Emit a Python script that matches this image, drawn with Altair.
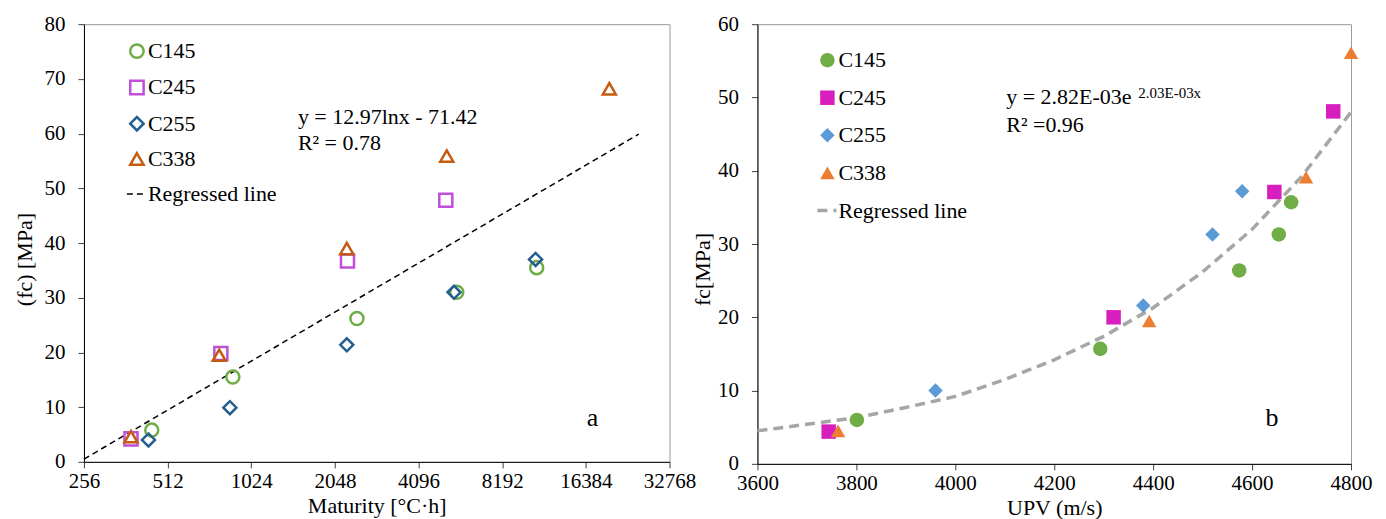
import altair as alt
import pandas as pd

FONT = "Liberation Serif"
groups = ["C145", "C245", "C255", "C338"]
shapes = ["circle", "square", "diamond", "triangle-up"]

# ---------------- panel a : maturity ----------------
a_colors = ["#70AD47", "#C04FD9", "#255E91", "#C55A11"]
a_x = {
    "C145": [449, 879, 2458, 5622, 10900],
    "C245": [378, 796, 2273, 5133],
    "C255": [437, 858, 2260, 5496, 10800],
    "C338": [378, 785, 2260, 5174, 19900],
}
a_y = {
    "C145": [5.8, 15.5, 26.2, 31.0, 35.5],
    "C245": [4.2, 19.8, 36.7, 47.8],
    "C255": [4.0, 9.9, 21.4, 31.0, 37.0],
    "C338": [4.6, 19.5, 39.0, 55.9, 68.2],
}
a_line_x = [256, 25400]
a_line_y = [0.5, 59.9]
a_xticks = [256, 512, 1024, 2048, 4096, 8192, 16384, 32768]
a_yticks = [0, 10, 20, 30, 40, 50, 60, 70, 80]
a_text = ["y = 12.97lnx - 71.42", "R² = 0.78"]
a_text_x = [1507, 1507]
a_text_y = [63.0, 58.3]
a_label_x = [17330]
a_label_y = [8.1]

# ---------------- panel b : UPV ----------------
b_colors = ["#70AD47", "#D91EBF", "#5B9BD5", "#ED7D31"]
b_x = {
    "C145": [3801, 4293, 4574, 4654, 4679],
    "C245": [3744, 4320, 4645, 4764],
    "C255": [3960, 4380, 4520, 4580],
    "C338": [3763, 4392, 4709, 4800],
}
b_y = {
    "C145": [6.0, 15.7, 26.4, 31.3, 35.7],
    "C245": [4.4, 20.0, 37.1, 48.1],
    "C255": [10.0, 21.6, 31.3, 37.2],
    "C338": [4.5, 19.5, 39.1, 56.1],
}
b_line_x = [3600, 3700, 3800, 3900, 4000, 4100, 4200, 4300, 4400, 4500, 4600, 4700, 4800]
b_line_y = [4.5, 5.4, 6.3, 7.7, 9.2, 11.5, 14.2, 17.4, 21.3, 26.2, 32.0, 39.2, 48.0]
b_xticks = [3600, 3800, 4000, 4200, 4400, 4600, 4800]
b_yticks = [0, 10, 20, 30, 40, 50, 60]
b_eq_main = ["y = 2.82E-03e"]
b_eq_main_x = [4103]
b_eq_main_y = [50.0]
b_eq_sup = ["2.03E-03x"]
b_eq_sup_x = [4370]
b_eq_sup_y = [50.6]
b_r2 = ["R² =0.96"]
b_r2_x = [4103]
b_r2_y = [46.3]
b_label_x = [4640]
b_label_y = [6.3]


def pts_frame(xs, ys):
    rows = []
    for g in groups:
        for x, y in zip(xs[g], ys[g]):
            rows.append({"x": x, "y": y, "Group": g})
    return pd.DataFrame(rows)


def pt_legend(lx, ly, rowpad, sw, size, offset):
    return alt.Legend(orient="none", legendX=lx, legendY=ly, title=None, padding=0,
                      labelFont=FONT, labelFontSize=22, labelColor="black",
                      rowPadding=rowpad, symbolStrokeWidth=sw, symbolSize=size,
                      labelOffset=offset)


def line_legend(lx, ly, size, color, width, dash, offset):
    return alt.Legend(orient="none", legendX=lx, legendY=ly, title=None, padding=0,
                      labelFont=FONT, labelFontSize=22, labelColor="black",
                      symbolType="stroke", symbolSize=size, symbolStrokeColor=color,
                      symbolStrokeWidth=width, symbolDash=dash, labelOffset=offset)


def text_layer(txt, xs, ys, xenc, yenc, size, align="left"):
    df = pd.DataFrame({"t": txt, "x": xs, "y": ys})
    return alt.Chart(df).mark_text(font=FONT, fontSize=size, align=align,
                                   baseline="middle", color="black").encode(
        x=xenc, y=yenc, text="t:N")


# ---------- panel a ----------
ax = lambda: alt.X("x:Q", scale=alt.Scale(type="log", base=2, domain=[256, 32768], nice=False),
                   axis=alt.Axis(values=a_xticks, format="d", title="Maturity [°C·h]"))
ay = lambda: alt.Y("y:Q", scale=alt.Scale(domain=[0, 80], nice=False),
                   axis=alt.Axis(values=a_yticks, title="(fc) [MPa]", titlePadding=7, titleY=235))

a_df = pts_frame(a_x, a_y)
leg_a = pt_legend(42, 16, 12.3, 2.5, 180, 0)
a_pts = alt.Chart(a_df).mark_point(filled=False, strokeWidth=2.5, size=170, opacity=1).encode(
    x=ax(), y=ay(),
    color=alt.Color("Group:N", scale=alt.Scale(domain=groups, range=a_colors), legend=leg_a),
    shape=alt.Shape("Group:N", scale=alt.Scale(domain=groups, range=shapes), legend=leg_a),
)
a_ldf = pd.DataFrame({"x": a_line_x, "y": a_line_y, "name": "Regressed line"})
a_line = alt.Chart(a_ldf).mark_line(color="black", strokeWidth=1.5).encode(
    x=ax(), y=ay(),
    strokeDash=alt.StrokeDash("name:N", scale=alt.Scale(domain=["Regressed line"], range=[[6, 4]]),
                              legend=line_legend(40, 159, 256, "black", 1.5, [6, 4], 2)),
)
a_eq = text_layer(a_text, a_text_x, a_text_y, ax(), ay(), 22)
a_lab = text_layer(["a"], a_label_x, a_label_y, ax(), ay(), 26, align="center")

left = alt.layer(a_line, a_pts, a_eq, a_lab).resolve_scale(
    color="independent", shape="independent", strokeDash="independent"
).properties(width=586, height=438)

# ---------- panel b ----------
bx = lambda: alt.X("x:Q", scale=alt.Scale(domain=[3600, 4800], nice=False),
                   axis=alt.Axis(values=b_xticks, format="d", title="UPV (m/s)"))
by = lambda: alt.Y("y:Q", scale=alt.Scale(domain=[0, 60], nice=False),
                   axis=alt.Axis(values=b_yticks, title="fc[MPa]", titlePadding=3, titleY=245))

b_df = pts_frame(b_x, b_y)
leg_b = pt_legend(59, 25, 15.6, 0, 210, 0)
b_pts = alt.Chart(b_df).mark_point(filled=True, size=210, opacity=1).encode(
    x=bx(), y=by(),
    color=alt.Color("Group:N", scale=alt.Scale(domain=groups, range=b_colors), legend=leg_b),
    shape=alt.Shape("Group:N", scale=alt.Scale(domain=groups, range=shapes), legend=leg_b),
)
b_ldf = pd.DataFrame({"x": b_line_x, "y": b_line_y, "name": "Regressed line"})
b_line = alt.Chart(b_ldf).mark_line(color="#A6A6A6", strokeWidth=3.5).encode(
    x=bx(), y=by(),
    strokeDash=alt.StrokeDash("name:N", scale=alt.Scale(domain=["Regressed line"], range=[[10, 6]]),
                              legend=line_legend(58, 175, 361, "#A6A6A6", 3.5, [8, 3], 0)),
)
b_main = text_layer(b_eq_main, b_eq_main_x, b_eq_main_y, bx(), by(), 22)
b_sup = text_layer(b_eq_sup, b_eq_sup_x, b_eq_sup_y, bx(), by(), 15)
b_r2t = text_layer(b_r2, b_r2_x, b_r2_y, bx(), by(), 22)
b_lab = text_layer(["b"], b_label_x, b_label_y, bx(), by(), 26, align="center")

right = alt.layer(b_line, b_pts, b_main, b_sup, b_r2t, b_lab).resolve_scale(
    color="independent", shape="independent", strokeDash="independent"
).properties(width=594, height=440)

chart = alt.hconcat(left, right, spacing=88, bounds="flush").resolve_scale(
    color="independent", shape="independent", strokeDash="independent"
).resolve_legend(
    color="independent", shape="independent", strokeDash="independent"
).properties(
    padding={"left": 5, "top": 4, "right": 5, "bottom": 5}
).configure_view(
    stroke="#9A9A9A", strokeWidth=1
).configure_axis(
    grid=False, domainColor="black", domainWidth=1, tickColor="#404040", tickSize=6,
    labelFont=FONT, labelFontSize=21, labelColor="black", labelFlush=False,
    titleFont=FONT, titleFontSize=22, titleColor="black", titleFontWeight="normal",
).configure_axisY(
    labelPadding=13
).configure_axisX(
    labelPadding=3, titlePadding=4
)

chart.save("out.html", embed_options={"renderer": "svg", "actions": False})
